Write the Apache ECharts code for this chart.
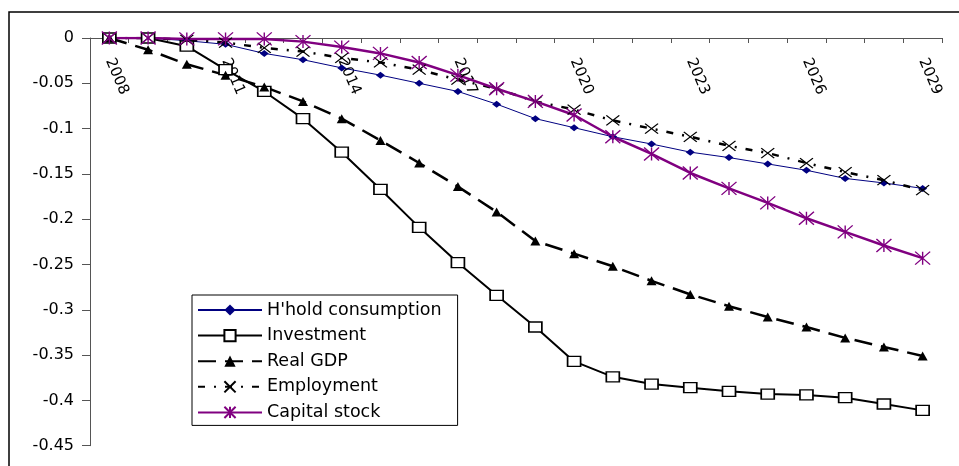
<!DOCTYPE html>
<html>
<head>
<meta charset="utf-8">
<script src="https://cdn.jsdelivr.net/npm/echarts@6/dist/echarts.min.js"></script>
<style>
html,body{margin:0;padding:0;background:#fff;}
#chart{width:959px;height:466px;}
</style>
</head>
<body>
<div id="chart"></div>
<script>
var years = ['2008','2009','2010','2011','2012','2013','2014','2015','2016','2017','2018','2019','2020','2021','2022','2023','2024','2025','2026','2027','2028','2029'];
var yTicks = [0, -0.05, -0.1, -0.15, -0.2, -0.25, -0.3, -0.35, -0.4, -0.45];
var hholdConsumption = [0, 0, -0.003, -0.007, -0.017, -0.024, -0.033, -0.041, -0.050, -0.059, -0.073, -0.089, -0.099, -0.109, -0.117, -0.126, -0.132, -0.139, -0.146, -0.155, -0.160, -0.166];
var investment = [0, 0, -0.009, -0.035, -0.059, -0.089, -0.126, -0.167, -0.209, -0.248, -0.284, -0.319, -0.357, -0.374, -0.382, -0.386, -0.390, -0.393, -0.394, -0.397, -0.404, -0.411];
var realGDP = [0, -0.013, -0.029, -0.041, -0.054, -0.070, -0.089, -0.113, -0.138, -0.164, -0.192, -0.224, -0.238, -0.252, -0.268, -0.283, -0.296, -0.308, -0.319, -0.331, -0.341, -0.351];
var employment = [0, 0, -0.002, -0.005, -0.011, -0.015, -0.022, -0.027, -0.035, -0.046, -0.056, -0.070, -0.079, -0.091, -0.100, -0.109, -0.119, -0.127, -0.138, -0.148, -0.157, -0.168];
var capitalStock = [0, 0, -0.001, -0.001, -0.001, -0.004, -0.010, -0.017, -0.027, -0.041, -0.056, -0.070, -0.085, -0.109, -0.128, -0.149, -0.166, -0.182, -0.199, -0.214, -0.229, -0.243];
var seriesNames = ['H\'hold consumption', 'Investment', 'Real GDP', 'Employment', 'Capital stock'];

var chart = echarts.init(document.getElementById('chart'), null, {renderer: 'canvas'});
var FONT = 'DejaVu Sans';
var option = {
  animation: false,
  backgroundColor: '#fff',
  graphic: [{
    type: 'rect', silent: true, z: -1,
    shape: {x: 9, y: 12, width: 1000, height: 500},
    style: {fill: 'none', stroke: '#000', lineWidth: 1.5}
  }],
  grid: {left: 90, right: 17, top: 38, bottom: 20.3, containLabel: false, outerBoundsMode: 'none'},
  legend: {
    orient: 'vertical',
    left: 192, top: 295,
    padding: [6, 16, 4, 5],
    itemWidth: 64, itemHeight: 14, itemGap: 7.6,
    borderColor: '#000', borderWidth: 1, backgroundColor: '#fff',
    textStyle: {fontFamily: FONT, fontSize: 17.5, color: '#000', lineHeight: 17.5},
    data: seriesNames
  },
  xAxis: {
    type: 'category',
    position: 'top',
    data: years,
    boundaryGap: true,
    axisLine: {onZero: false, lineStyle: {color: '#555', width: 1}},
    axisTick: {show: true, inside: true, interval: 0, length: 5, lineStyle: {color: '#555'}},
    axisLabel: {inside: true, interval: 2, rotate: 67, margin: 21, padding: [0, 0, 12, 0],
      fontFamily: FONT, fontSize: 15, color: '#000'},
    splitLine: {show: false}
  },
  yAxis: {
    type: 'value',
    min: yTicks[yTicks.length - 1], max: yTicks[0], interval: 0.05,
    axisLine: {show: true, onZero: false, lineStyle: {color: '#555', width: 1}},
    axisTick: {show: true, length: 8, lineStyle: {color: '#555'}},
    axisLabel: {margin: 16, fontFamily: FONT, fontSize: 16, color: '#000',
      formatter: function (v) { return String(Math.round(v * 100) / 100); }},
    splitLine: {show: false}
  },
  series: [
    {
      name: seriesNames[0], type: 'line', data: hholdConsumption,
      symbol: 'diamond', symbolSize: [9, 7], showAllSymbol: true,
      lineStyle: {color: '#000080', width: 1},
      itemStyle: {color: '#000080', borderColor: '#000080', borderWidth: 0}
    },
    {
      name: seriesNames[1], type: 'line', data: investment,
      symbol: 'rect', symbolSize: [13, 10], showAllSymbol: true,
      lineStyle: {color: '#000', width: 2},
      itemStyle: {color: '#fff', borderColor: '#000', borderWidth: 1.5}
    },
    {
      name: seriesNames[2], type: 'line', data: realGDP,
      symbol: 'triangle', symbolSize: [10, 9], showAllSymbol: true,
      lineStyle: {color: '#000', width: 2.5, type: [18, 9]},
      itemStyle: {color: '#000', borderWidth: 0}
    },
    {
      name: seriesNames[3], type: 'line', data: employment,
      symbol: 'path://M0,0L10,10M10,0L0,10', symbolSize: [13, 10], showAllSymbol: true,
      lineStyle: {color: '#000', width: 2.5, type: [7, 9, 2, 9]},
      itemStyle: {color: '#000', borderColor: '#000', borderWidth: 1.2}
    },
    {
      name: seriesNames[4], type: 'line', data: capitalStock,
      symbol: 'path://M0,0L10,10M10,0L0,10M5,0L5,10', symbolSize: [15, 13], showAllSymbol: true,
      lineStyle: {color: '#800080', width: 2.5},
      itemStyle: {color: '#800080', borderColor: '#800080', borderWidth: 1.3}
    }
  ]
};
chart.setOption(option);
</script>
</body>
</html>
